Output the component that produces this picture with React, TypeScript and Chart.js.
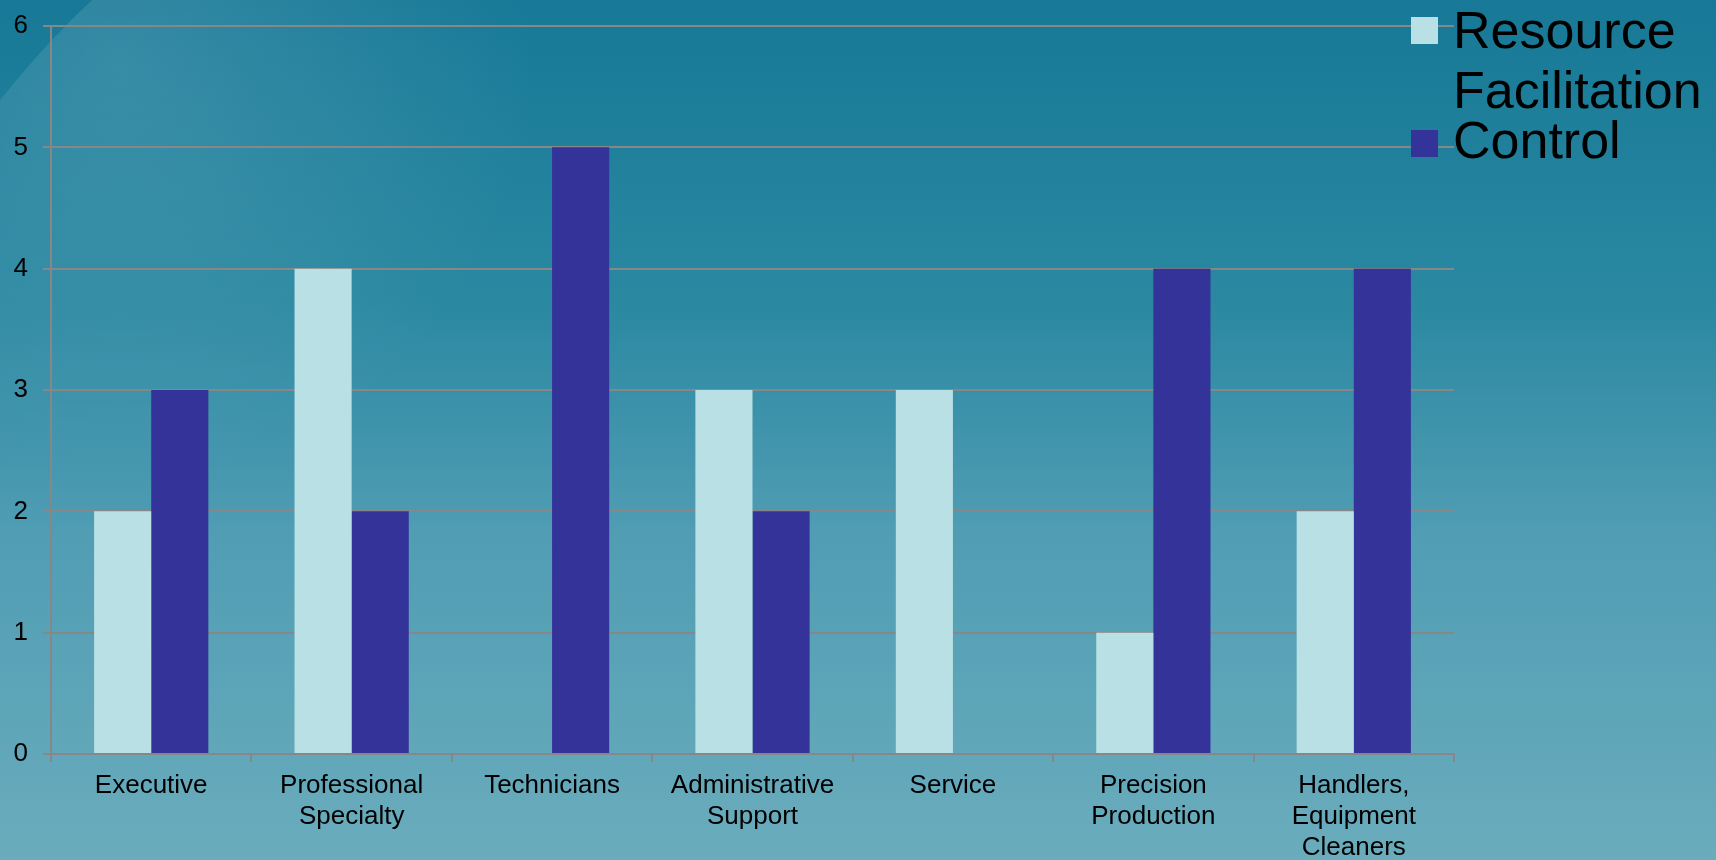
import React, { useEffect, useRef } from "react";
import { Chart, registerables } from "chart.js";

Chart.register(...registerables);

const categories: (string | string[])[] = [
  "Executive",
  ["Professional", "Specialty"],
  "Technicians",
  ["Administrative", "Support"],
  "Service",
  ["Precision", "Production"],
  ["Handlers,", "Equipment", "Cleaners"],
];
const resourceFacilitation = [2, 4, 0, 3, 3, 1, 2];
const control = [3, 2, 5, 2, 0, 4, 4];
const seriesNames = ["Resource Facilitation", "Control"];
const legendLines = [["Resource", "Facilitation"], ["Control"]];
const yTicks = [0, 1, 2, 3, 4, 5, 6];

const LIGHT = "#B9E0E4";
const DARK = "#333399";
const GRID = "#878787";
const FONT = "'Liberation Sans', Arial, sans-serif";

const backgroundPlugin = {
  id: "bg",
  beforeDraw(chart: any) {
    const { ctx, width, height } = chart;
    ctx.save();
    const g = ctx.createLinearGradient(0, 0, 0, height);
    g.addColorStop(0, "rgb(23,121,151)");
    g.addColorStop(0.35, "rgb(42,136,161)");
    g.addColorStop(0.62, "rgb(80,157,180)");
    g.addColorStop(1, "rgb(106,172,188)");
    ctx.fillStyle = g;
    ctx.fillRect(0, 0, width, height);
    // subtle swoosh in the top-left corner
    ctx.beginPath();
    ctx.arc(700, 650, 890, 0, Math.PI * 2);
    ctx.clip();
    const r = ctx.createRadialGradient(120, 60, 0, 120, 60, 420);
    r.addColorStop(0, "rgba(255,255,255,0.12)");
    r.addColorStop(1, "rgba(255,255,255,0)");
    ctx.fillStyle = r;
    ctx.fillRect(0, 0, width, height);
    ctx.restore();
  },
};

const legendPlugin = {
  id: "customLegend",
  afterDraw(chart: any) {
    const { ctx } = chart;
    ctx.save();
    const colors = [LIGHT, DARK];
    const boxY = [17, 130];
    const baselines = [[48, 108], [158]];
    ctx.font = `52px ${FONT}`;
    ctx.textBaseline = "alphabetic";
    ctx.textAlign = "left";
    legendLines.forEach((lines, i) => {
      ctx.fillStyle = colors[i];
      ctx.fillRect(1411, boxY[i], 27, 27);
      ctx.fillStyle = "#000";
      lines.forEach((ln, j) => ctx.fillText(ln, 1453, baselines[i][j]));
    });
    ctx.restore();
  },
};

export default function App() {
  const ref = useRef<HTMLCanvasElement | null>(null);
  useEffect(() => {
    document.body.style.margin = "0";
    const canvas = ref.current!;
    const chart = new Chart(canvas, {
      type: "bar",
      data: {
        labels: categories as any,
        datasets: [
          {
            label: seriesNames[0],
            data: resourceFacilitation,
            backgroundColor: LIGHT,
            borderWidth: 0,
            categoryPercentage: 0.57,
            barPercentage: 1,
          },
          {
            label: seriesNames[1],
            data: control,
            backgroundColor: DARK,
            borderWidth: 0,
            categoryPercentage: 0.57,
            barPercentage: 1,
          },
        ],
      },
      options: {
        animation: false,
        responsive: false,
        maintainAspectRatio: false,
        layout: { padding: { top: 26, right: 262, left: 0, bottom: 0 } },
        plugins: {
          legend: { display: false },
          tooltip: { enabled: false },
        },
        scales: {
          x: {
            grid: {
              drawOnChartArea: false,
              drawTicks: true,
              tickLength: 8,
              color: GRID,
              lineWidth: 2,
            },
            border: { color: GRID, width: 2 },
            ticks: {
              color: "#000",
              font: { family: FONT, size: 26, lineHeight: 1.2 },
              padding: 8,
              maxRotation: 0,
              autoSkip: false,
            },
            afterFit(scale: any) {
              scale.height = 106;
              scale.paddingLeft = 0;
              scale.paddingRight = 0;
            },
          },
          y: {
            min: yTicks[0],
            max: yTicks[yTicks.length - 1],
            afterBuildTicks(scale: any) {
              scale.ticks = yTicks.map((v) => ({ value: v }));
            },
            grid: {
              color: GRID,
              lineWidth: 2,
              drawTicks: true,
              tickLength: 8,
            },
            border: { color: GRID, width: 2 },
            ticks: {
              color: "#000",
              font: { family: FONT, size: 26 },
              padding: 15,
            },
            afterFit(scale: any) {
              scale.width = 51;
              scale.paddingTop = 0;
              scale.paddingBottom = 0;
            },
          },
        },
      },
      plugins: [backgroundPlugin, legendPlugin],
    });
    return () => chart.destroy();
  }, []);
  return <canvas ref={ref} width={1716} height={860} style={{ display: "block", width: 1716, height: 860 }} />;
}
